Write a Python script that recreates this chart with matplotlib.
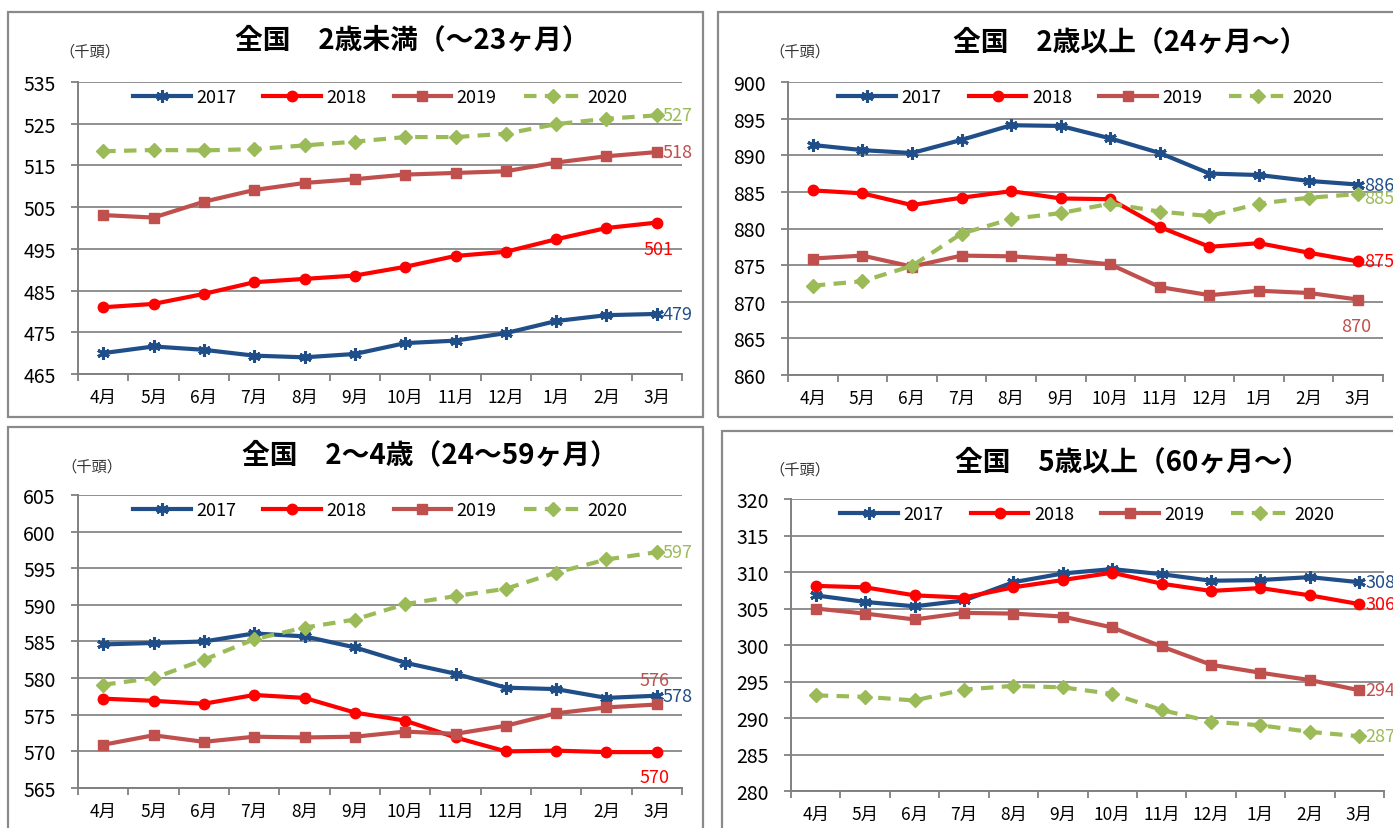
import matplotlib
matplotlib.use("Agg")
import matplotlib.pyplot as plt
from matplotlib.patches import Rectangle

plt.rcParams['font.family'] = ['Noto Sans CJK JP', 'DejaVu Sans']

# data (千頭)
months = ['4月', '5月', '6月', '7月', '8月', '9月', '10月', '11月', '12月', '1月', '2月', '3月']
years = ['2017', '2018', '2019', '2020']

u2_2017 = [470.0, 471.6, 470.8, 469.4, 469.0, 469.8, 472.4, 473.0, 474.8, 477.7, 479.1, 479.4]
u2_2018 = [481.0, 481.8, 484.2, 487.0, 487.8, 488.6, 490.7, 493.3, 494.3, 497.3, 500.0, 501.3]
u2_2019 = [503.1, 502.5, 506.3, 509.1, 510.8, 511.7, 512.8, 513.2, 513.6, 515.7, 517.2, 518.2]
u2_2020 = [518.4, 518.7, 518.6, 518.9, 519.8, 520.7, 521.8, 521.8, 522.6, 524.9, 526.2, 527.0]

o2_2017 = [891.4, 890.7, 890.3, 892.1, 894.1, 894.0, 892.3, 890.3, 887.5, 887.3, 886.5, 886.0]
o2_2018 = [885.2, 884.8, 883.2, 884.2, 885.1, 884.1, 884.0, 880.2, 877.5, 878.0, 876.7, 875.5]
o2_2019 = [875.9, 876.3, 874.8, 876.3, 876.2, 875.8, 875.1, 872.0, 870.9, 871.5, 871.2, 870.3]
o2_2020 = [872.2, 872.8, 874.9, 879.3, 881.3, 882.1, 883.4, 882.3, 881.7, 883.4, 884.2, 884.7]

a24_2017 = [584.6, 584.8, 585.0, 586.1, 585.7, 584.2, 582.1, 580.6, 578.7, 578.5, 577.3, 577.6]
a24_2018 = [577.2, 576.9, 576.5, 577.7, 577.3, 575.3, 574.2, 571.9, 570.0, 570.1, 569.9, 569.9]
a24_2019 = [570.9, 572.2, 571.3, 572.0, 571.9, 572.0, 572.7, 572.4, 573.5, 575.2, 576.0, 576.4]
a24_2020 = [579.1, 580.0, 582.5, 585.3, 586.9, 588.0, 590.1, 591.2, 592.2, 594.4, 596.2, 597.2]

o5_2017 = [306.8, 305.9, 305.3, 306.1, 308.6, 309.8, 310.4, 309.7, 308.8, 308.9, 309.3, 308.6]
o5_2018 = [308.1, 307.9, 306.8, 306.5, 307.9, 308.9, 309.9, 308.4, 307.4, 307.8, 306.8, 305.6]
o5_2019 = [305.0, 304.3, 303.5, 304.4, 304.3, 303.9, 302.4, 299.8, 297.3, 296.2, 295.2, 293.8]
o5_2020 = [293.1, 292.9, 292.4, 293.9, 294.4, 294.2, 293.3, 291.1, 289.5, 289.0, 288.1, 287.5]

end_labels_u2 = ['479', '501', '518', '527']
end_labels_o2 = ['886', '875', '870', '885']
end_labels_a24 = ['578', '570', '576', '597']
end_labels_o5 = ['308', '306', '294', '287']

colors = ['#1F4E88', '#FF0000', '#C0504D', '#9BBB59']
styles = [
    dict(marker=(6, 2, 0), markersize=9, markeredgewidth=2.2, linestyle='-'),
    dict(marker='o', markersize=7.5, linestyle='-'),
    dict(marker='s', markersize=7, linestyle='-'),
    dict(marker='D', markersize=7, linestyle=(0, (3, 2))),
]

W, H = 1393, 829
fig = plt.figure(figsize=(W / 100, H / 100), dpi=100)
fig.patch.set_facecolor('white')


def px_rect(l, t, r, b):
    return [l / W, (H - b) / H, (r - l) / W, (b - t) / H]


def draw_panel(ax_px, box_px, title, title_xy, unit_xy, series, labels, offsets, ylo, yhi, step):
    l, t, r, b = box_px
    fig.patches.append(Rectangle((l / W, (H - b) / H), (r - l) / W, (b - t) / H,
                                 transform=fig.transFigure, fill=False,
                                 edgecolor='#8a8a8a', linewidth=1.6))
    fig.text(title_xy[0] / W, 1 - title_xy[1] / H, title, fontsize=20, fontweight='bold',
             ha='center', va='center')
    fig.text(unit_xy[0] / W, 1 - unit_xy[1] / H, '（千頭）', fontsize=11, color='#333333',
             ha='center', va='center')

    ax = fig.add_axes(px_rect(*ax_px))
    x = list(range(len(months)))
    for yr, vals, c, st in zip(years, series, colors, styles):
        ax.plot(x, vals, color=c, linewidth=3, label=yr, markerfacecolor=c,
                markeredgecolor=c, **st)
    for vals, lab, c, off in zip(series, labels, colors, offsets):
        ax.annotate(lab, (x[-1], vals[-1]), xytext=off, textcoords='offset pixels',
                    color=c, fontsize=13, ha='left', va='center')

    ax.set_xlim(-0.5, len(months) - 0.5)
    ax.set_ylim(ylo, yhi)
    ax.set_yticks(range(ylo, yhi + 1, step))
    ax.yaxis.grid(True, color='#8f8f8f', linewidth=1.4)
    ax.set_axisbelow(True)
    ax.set_xticks([i - 0.5 for i in range(len(months) + 1)])
    ax.set_xticklabels([])
    ax.set_xticks(x, minor=True)
    ax.set_xticklabels(months, minor=True)
    ax.tick_params(axis='x', which='major', length=5, width=1.3, color='#808080', direction='out')
    ax.tick_params(axis='x', which='minor', length=0, pad=10, labelsize=12.5)
    ax.tick_params(axis='y', length=5, width=1.3, color='#808080', pad=11, labelsize=14)
    for s in ['top', 'right']:
        ax.spines[s].set_visible(False)
    for s in ['left', 'bottom']:
        ax.spines[s].set_color('#808080')
        ax.spines[s].set_linewidth(1.4)
    ax.legend(loc='upper center', bbox_to_anchor=(0.5, 1.01), ncol=4, frameon=False,
              fontsize=13, handlelength=3.2, handletextpad=0.3, columnspacing=1.5,
              borderaxespad=0.1)
    return ax


draw_panel((78, 83, 682, 375), (8, 13, 703, 418), '全国　2歳未満（～23ヶ月）', (412, 40), (90, 52),
           [u2_2017, u2_2018, u2_2019, u2_2020], end_labels_u2,
           [(6, 0), (-13, -26), (6, 0), (6, 0)], 465, 535, 10)
draw_panel((788, 83, 1383, 376), (718, 13, 1400, 418), '全国　2歳以上（24ヶ月～）', (1130, 42), (800, 52),
           [o2_2017, o2_2018, o2_2019, o2_2020], end_labels_o2,
           [(6, 0), (6, 0), (-17, -26), (6, -4)], 860, 900, 5)
draw_panel((78, 496, 682, 789), (8, 428, 703, 840), '全国　2～4歳（24～59ヶ月）', (430, 455), (92, 467),
           [a24_2017, a24_2018, a24_2019, a24_2020], end_labels_a24,
           [(6, 0), (-17, -25), (-17, 24), (6, 0)], 565, 605, 5)
draw_panel((791, 500, 1384, 792), (722, 432, 1400, 840), '全国　5歳以上（60ヶ月～）', (1132, 462), (800, 470),
           [o5_2017, o5_2018, o5_2019, o5_2020], end_labels_o5,
           [(6, 0), (6, 0), (6, 0), (6, 0)], 280, 320, 5)

fig.savefig('out.png', dpi=100, facecolor='white')
